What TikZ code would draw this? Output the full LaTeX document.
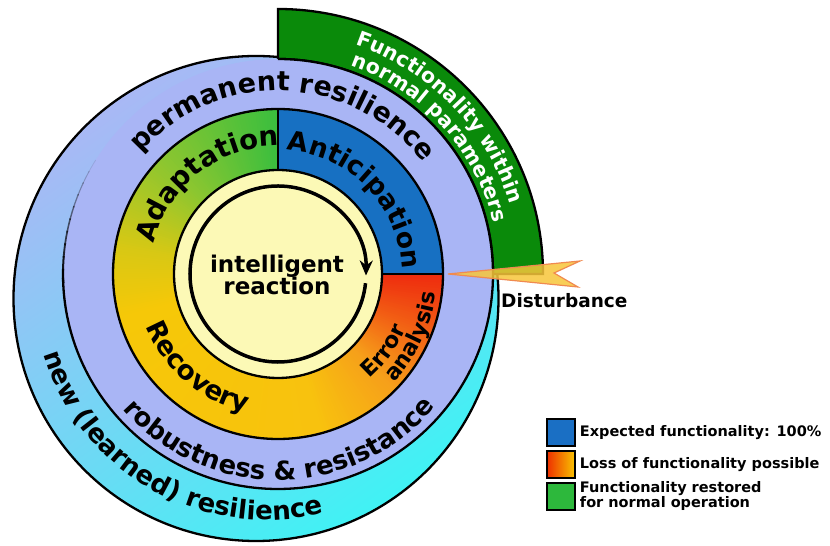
\documentclass[tikz,border=0pt]{standalone}
\usepackage{fontspec}
\setmainfont{DejaVu Sans}
\usetikzlibrary{decorations.text,arrows.meta}
\definecolor{lav}{HTML}{A9B5F5}
\definecolor{outTop}{HTML}{A9B8F5}
\definecolor{outMid}{HTML}{88C6FC}
\definecolor{outBot}{HTML}{40F2F4}
\definecolor{bandgreen}{HTML}{0A8A0A}
\definecolor{antblue}{HTML}{1770C2}
\definecolor{core}{HTML}{FCF9B6}
\definecolor{gA}{HTML}{3BBE3E}
\definecolor{gB}{HTML}{8CC630}
\definecolor{gC}{HTML}{D8C814}
\definecolor{yA}{HTML}{F6C808}
\definecolor{yB}{HTML}{F8C20E}
\definecolor{oA}{HTML}{F6A01A}
\definecolor{oB}{HTML}{F26014}
\definecolor{rA}{HTML}{EE2A0E}
\definecolor{boltyellow}{HTML}{F7C63A}
\definecolor{boltorange}{HTML}{F08A50}
\definecolor{legblue}{HTML}{1A6FC4}
\definecolor{legred}{HTML}{EE3000}
\definecolor{legyellow}{HTML}{F9C400}
\definecolor{leggreen}{HTML}{2DB83C}
\newcommand\fontRing{\bfseries\fontsize{26}{26}\selectfont}
\newcommand\fontTop{\bfseries\fontsize{27}{27}\selectfont}
\newcommand\fontMid{\bfseries\fontsize{26.5}{26.5}\selectfont}
\newcommand\fontAda{\bfseries\fontsize{27.5}{27.5}\selectfont}
\newcommand\fontErr{\bfseries\fontsize{22}{22}\selectfont}
\newcommand\fontBand{\color{white}\bfseries\fontsize{20.5}{20.5}\selectfont}
\newcommand\ringseg[4]{%
  \pgfmathtruncatemacro\segend{#2-1}%
  \foreach \ang in {#1,...,\segend}{%
    \pgfmathtruncatemacro\pct{round(100*(\ang-#1)/(#2-#1))}%
    \pgfmathsetmacro\angb{\ang+1.5}%
    \fill[#4!\pct!#3] (\ang:104) arc[start angle=\ang,end angle=\angb,radius=104]
      -- (\angb:165) arc[start angle=\angb,end angle=\ang,radius=165] -- cycle;
  }}
\begin{document}
\begin{tikzpicture}[x=1pt,y=1pt,
  outl/.style={draw=black,line width=2.3pt},
  legbox/.style={draw=black,line width=1.5pt,minimum width=28pt,minimum height=27pt,inner sep=0pt},
  legtxt/.style={anchor=west,align=left,font=\bfseries\fontsize{14.5}{15}\selectfont,inner sep=0pt}]
\useasboundingbox (0,0) rectangle (830,546);
\begin{scope}[shift={(278,272)}]
  % outer (learned resilience) circle
  \shade[top color=outTop,middle color=outMid,bottom color=outBot,shading angle=35]
    (-22,-24.5) circle[radius=242.5];
  \draw[outl] (-22,-24.5) circle[radius=242.5];
  % green band
  \path[fill=bandgreen,outl] (0:215) -- (0:265) arc[start angle=0,end angle=90,radius=265]
    -- (90:215) arc[start angle=90,end angle=0,radius=215] -- cycle;
  % lavender ring
  \fill[lav] (0,0) circle[radius=215];
  \foreach \i in {0,...,9}{%
    \pgfmathsetmacro\sa{148+3.4*\i}%
    \pgfmathsetmacro\ea{\sa+3.8}%
    \pgfmathsetmacro\op{(\i+1)/10}%
    \pgfmathsetmacro\lw{0.8+0.15*\i}%
    \draw[draw=black,draw opacity=\op,line width=\lw pt] (\sa:215) arc[start angle=\sa,end angle=\ea,radius=215];
  }
  \draw[outl] (181:215) arc[start angle=181,end angle=450,radius=215];
  % middle ring gradient
  \ringseg{90}{135}{gA}{gB}
  \ringseg{135}{170}{gB}{gC}
  \ringseg{170}{195}{gC}{yA}
  \ringseg{195}{285}{yA}{yB}
  \ringseg{285}{315}{yB}{oA}
  \ringseg{315}{338}{oA}{oB}
  \ringseg{338}{360}{oB}{rA}
  \fill[antblue] (0:104) -- (0:165) arc[start angle=0,end angle=90,radius=165]
    -- (90:104) arc[start angle=90,end angle=0,radius=104] -- cycle;
  \draw[outl] (0,0) circle[radius=165];
  \draw[outl] (90:104) -- (90:165);
  \draw[outl] (0:104) -- (0:165);
  \path[fill=core,outl] (0,0) circle[radius=104];
  % cycle arrow
  \draw[line width=3.5pt,-{Stealth[length=15pt,width=13pt]}] (-6:88) arc[start angle=-6,end angle=-361,radius=88];
  % ring texts
  \path[decorate,decoration={text along path,text align=center,text={|\fontTop|permanent resilience}}]
    (163:183) arc[start angle=163,end angle=13,radius=183];
  \path[decorate,decoration={text along path,text align=center,text={|\fontRing|robustness {\&} resistance}}]
    (190.5:206) arc[start angle=190.5,end angle=350.5,radius=206];
  \begin{scope}[shift={(-11,-12)}]
    \path[decorate,decoration={text along path,text align=center,text={|\fontRing|new (learned) resilience}}]
      (160.5:234) arc[start angle=160.5,end angle=320.5,radius=234];
  \end{scope}
  \path[decorate,decoration={text along path,text align=center,text={|\fontAda|Adaptation}}]
    (193:128) arc[start angle=193,end angle=63,radius=128];
  \path[decorate,decoration={text along path,text align=center,text={|\fontMid|Anticipation}}]
    (109:124) arc[start angle=109,end angle=-21,radius=124];
  \path[decorate,decoration={text along path,text align=center,text={|\fontMid|Recovery}}]
    (169.4:142) arc[start angle=169.4,end angle=289.4,radius=142];
  \path[decorate,decoration={text along path,text align=center,text={|\fontErr|Error}}]
    (-96:139) arc[start angle=-96,end angle=24,radius=139];
  \path[decorate,decoration={text along path,text align=center,text={|\fontErr|analysis}}]
    (-85:159) arc[start angle=-85,end angle=35,radius=159];
  \path[decorate,decoration={text along path,text align=center,text={|\fontBand|Functionality within}}]
    (104:242) arc[start angle=104,end angle=-16,radius=242];
  \path[decorate,decoration={text along path,text align=center,text={|\fontBand|normal parameters}}]
    (102:221) arc[start angle=102,end angle=-18,radius=221];
  \node[align=center,font=\bfseries\fontsize{23}{22.5}\selectfont,inner sep=0pt] (ir) at (-1,-1) {intelligent\\reaction};
\end{scope}
% disturbance
\coordinate (tip) at (448,272);
\draw[fill=boltyellow,fill opacity=0.85,draw=boltorange,line width=1.2pt]
  (tip) -- (580,285) -- (554,273) -- (578,259) -- cycle;
\node[anchor=west,font=\bfseries\fontsize{18.5}{19}\selectfont,inner sep=0pt] (dist) at (501,245) {Disturbance};
% legend
\node[legbox,fill=legblue] (lb1) at (561,113.5) {};
\node[legbox,left color=legred,right color=legyellow] (lb2) at (561,81.5) {};
\node[legbox,fill=leggreen] (lb3) at (561,49.5) {};
\node[legtxt] (lt1) at ([xshift=4pt]lb1.east) {Expected functionality: 100\%};
\node[legtxt] (lt2) at ([xshift=4pt]lb2.east) {Loss of functionality possible};
\node[legtxt] (lt3) at ([xshift=4pt]lb3.east) {Functionality restored\\for normal operation};
\end{tikzpicture}
\end{document}
